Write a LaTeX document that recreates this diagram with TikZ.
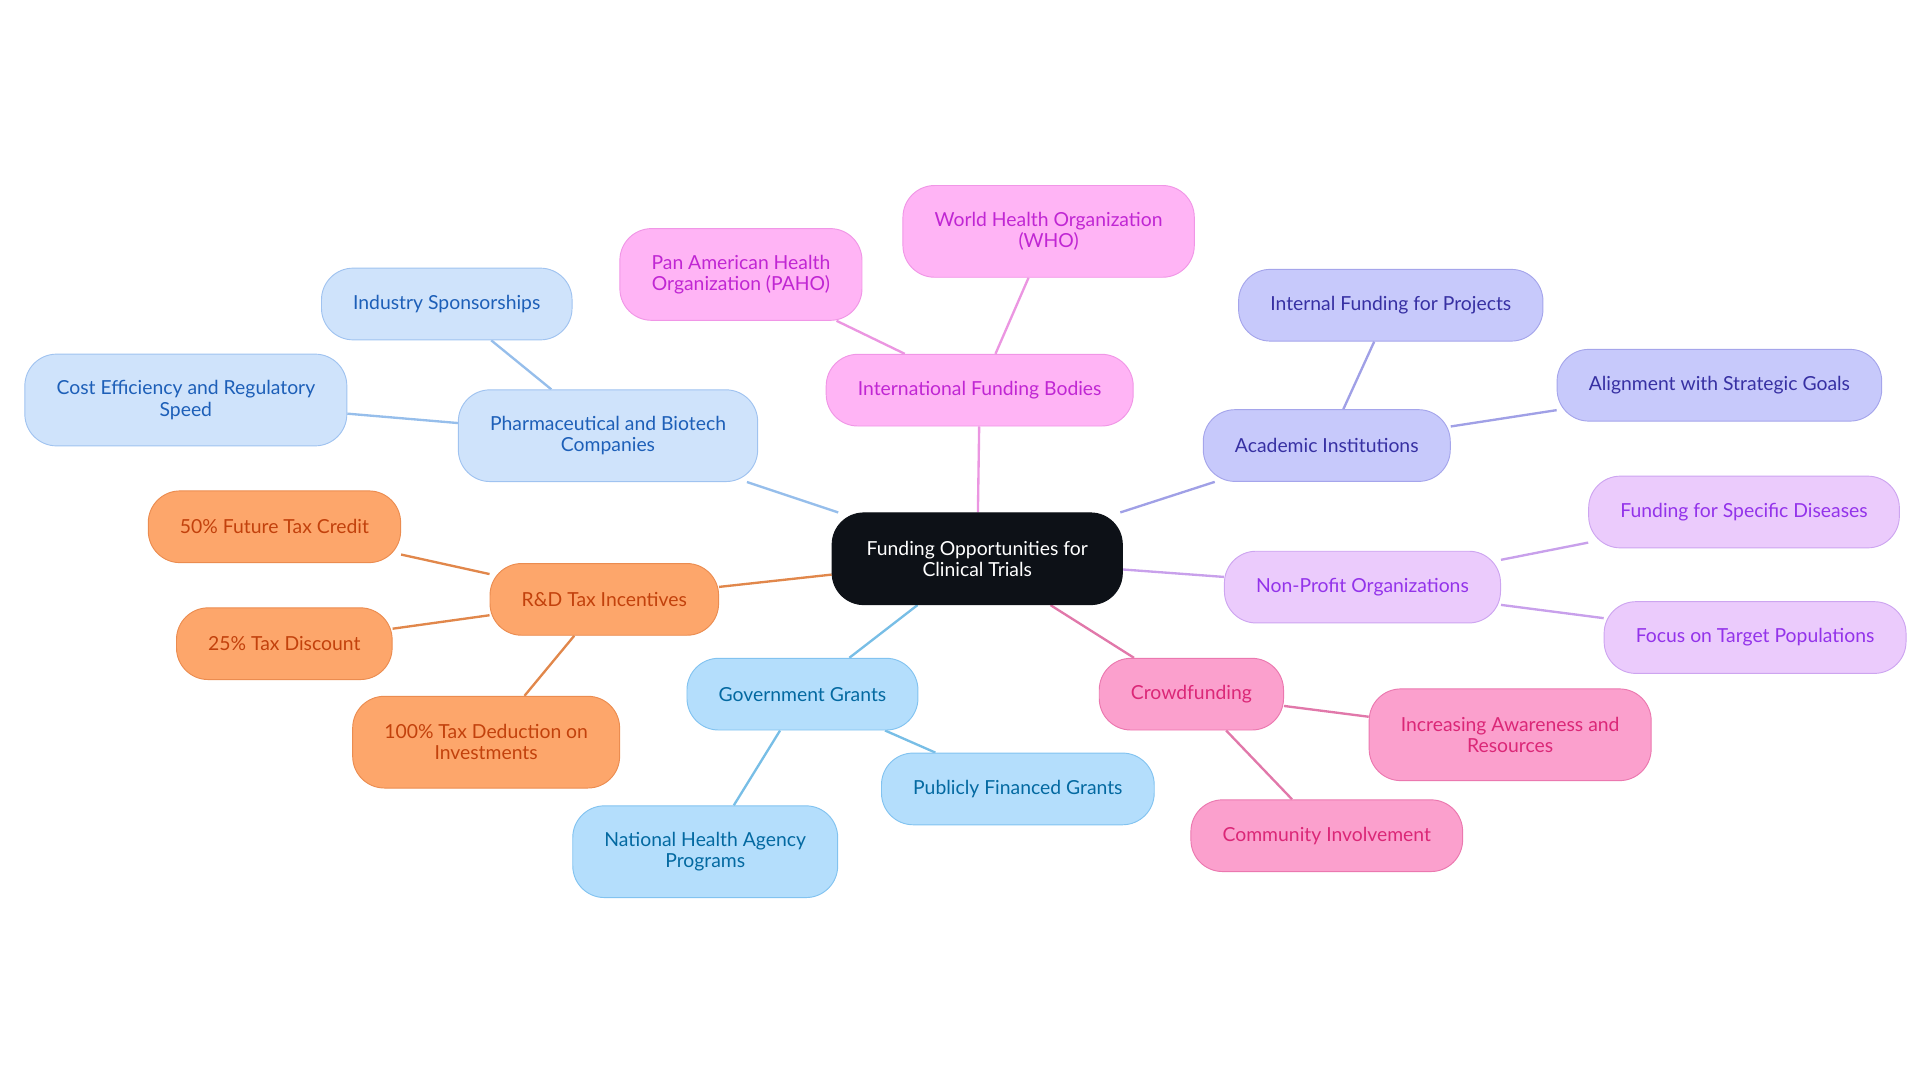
\documentclass[tikz,border=0pt]{standalone}
\usepackage{fontspec}
\setmainfont{Lato}
\usetikzlibrary{backgrounds}
\tikzset{
  mm/.style={rounded corners=0.95cm, minimum height=2.15cm, inner xsep=0.95cm, align=center, font=\fontsize{16.5}{18}\selectfont, line width=0.8pt},
  two/.style={minimum height=2.75cm},
  edge/.style={line width=2pt},
}
\definecolor{ctr}{HTML}{0D1117}
\begin{document}
\begin{tikzpicture}[x=0.0369cm,y=-0.0369cm]
  \useasboundingbox (0,0) rectangle (1560,880);
  % Zentrum
  \node[mm,two,fill=ctr,draw=ctr,text=white,minimum width=8.7cm] (root) at (794,454) {Funding Opportunities for\\Clinical Trials};
  % Internationale
  \tikzset{c/.style={mm,fill={rgb,255:red,255;green,180;blue,245},draw={rgb,255:red,240;green,150;blue,230},text={rgb,255:red,192;green,38;blue,211}}}
  \node[c] (intl) at (796,317) {International Funding Bodies};
  \node[c,two] (who) at (852,188) {World Health Organization\\(WHO)};
  \node[c,two] (paho) at (602,223) {Pan American Health\\Organization (PAHO)};
  % Akademisch
  \tikzset{c/.style={mm,fill={rgb,255:red,199;green,201;blue,251},draw={rgb,255:red,165;green,165;blue,235},text={rgb,255:red,55;green,48;blue,163}}}
  \node[c] (acad) at (1078,362) {Academic Institutions};
  \node[c] (intern) at (1130,248) {Internal Funding for Projects};
  \node[c] (align) at (1397,313) {Alignment with Strategic Goals};
  % Gemeinnuetzig
  \tikzset{c/.style={mm,fill={rgb,255:red,235;green,203;blue,252},draw={rgb,255:red,205;green,165;blue,240},text={rgb,255:red,147;green,51;blue,234}}}
  \node[c] (npo) at (1107,477) {Non-Profit Organizations};
  \node[c] (disease) at (1417,416) {Funding for Specific Diseases};
  \node[c] (target) at (1426,518) {Focus on Target Populations};
  % Crowdfunding
  \tikzset{c/.style={mm,fill={rgb,255:red,251;green,160;blue,205},draw={rgb,255:red,235;green,120;blue,175},text={rgb,255:red,219;green,39;blue,119}}}
  \node[c] (crowd) at (968,564) {Crowdfunding};
  \node[c,two] (aware) at (1227,597) {Increasing Awareness and\\Resources};
  \node[c] (commun) at (1078,679) {Community Involvement};
  % Staat
  \tikzset{c/.style={mm,fill={rgb,255:red,180;green,222;blue,252},draw={rgb,255:red,130;green,195;blue,240},text={rgb,255:red,3;green,105;blue,161}}}
  \node[c] (gov) at (652,564) {Government Grants};
  \node[c] (public) at (827,641) {Publicly Financed Grants};
  \node[c,two] (national) at (573,692) {National Health Agency\\Programs};
  % Steuer
  \tikzset{c/.style={mm,fill={rgb,255:red,253;green,166;blue,107},draw={rgb,255:red,235;green,140;blue,80},text={rgb,255:red,194;green,65;blue,12}}}
  \node[c] (tax) at (491,487) {R\&D Tax Incentives};
  \node[c] (credit) at (223,428) {50\% Future Tax Credit};
  \node[c] (discount) at (231,523) {25\% Tax Discount};
  \node[c,two] (deduct) at (395,603) {100\% Tax Deduction on\\Investments};
  % Pharma
  \tikzset{c/.style={mm,fill={rgb,255:red,207;green,227;blue,251},draw={rgb,255:red,160;green,195;blue,240},text={rgb,255:red,29;green,95;blue,184}}}
  \node[c,two] (pharma) at (494,354) {Pharmaceutical and Biotech\\Companies};
  \node[c] (industry) at (363,247) {Industry Sponsorships};
  \node[c,two] (cost) at (151,325) {Cost Efficiency and Regulatory\\Speed};
  % Verbindungen
  \begin{scope}[on background layer]
    \draw[edge,color={rgb,255:red,235;green,150;blue,225}] (root) -- (intl) (intl) -- (who) (intl) -- (paho);
    \draw[edge,color={rgb,255:red,160;green,160;blue,230}] (root) -- (acad) (acad) -- (intern) (acad) -- (align);
    \draw[edge,color={rgb,255:red,200;green,160;blue,235}] (root) -- (npo) (npo) -- (disease) (npo) -- (target);
    \draw[edge,color={rgb,255:red,225;green,120;blue,170}] (root) -- (crowd) (crowd) -- (aware) (crowd) -- (commun);
    \draw[edge,color={rgb,255:red,120;green,190;blue,230}] (root) -- (gov) (gov) -- (public) (gov) -- (national);
    \draw[edge,color={rgb,255:red,225;green,135;blue,75}] (root) -- (tax) (tax) -- (credit) (tax) -- (discount) (tax) -- (deduct);
    \draw[edge,color={rgb,255:red,150;green,190;blue,235}] (root) -- (pharma) (pharma) -- (industry) (pharma) -- (cost);
  \end{scope}
\end{tikzpicture}
\end{document}
